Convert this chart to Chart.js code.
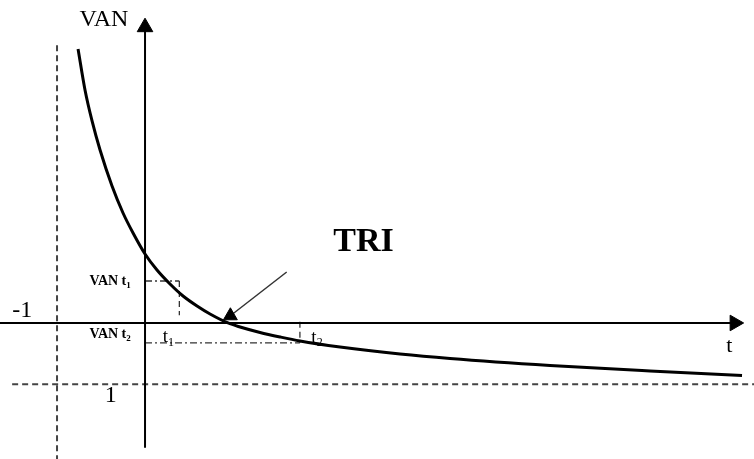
<!DOCTYPE html>
<html>
<head>
<meta charset="utf-8">
<script src="https://cdn.jsdelivr.net/npm/chart.js@4/dist/chart.umd.min.js"></script>
<style>
  html, body { margin: 0; padding: 0; background: #fff; }
  #wrap { width: 754px; height: 459px; }
</style>
</head>
<body>
<div id="wrap"><canvas id="van" width="754" height="459"></canvas></div>
<script>
// rate (t) and net present value (VAN)
const rates = [-0.761, -0.682, -0.602, -0.511, -0.375, -0.25, -0.136, 0, 0.136, 0.284, 0.432, 0.591, 0.739, 0.943, 1.08, 1.307, 1.534, 1.761, 2.216, 2.898, 3.466, 4.602, 5.739, 6.784];
const van = [4.567, 3.883, 3.367, 2.883, 2.283, 1.833, 1.5, 1.15, 0.883, 0.65, 0.45, 0.283, 0.15, 0, -0.067, -0.158, -0.233, -0.3, -0.4, -0.517, -0.592, -0.708, -0.8, -0.875];

// t1 / t2 and their VAN
const tPoints = [0.39, 1.76];
const vanPoints = [0.7, -0.33];

// asymptotes (dashed)
const asymT = -1;
const asymVan = -1.02;

// TRI arrow: from the label down to the root
const triFrom = { x: 1.61, y: 0.85 };
const triTo = { x: 0.97, y: 0.12 };

const xMin = -1.648, xMax = 6.92;
const yMin = -2.267, yMax = 5.383;

const seg = (a, b) => [a, b];

const datasets = [
  {
    // the VAN curve
    data: rates.map((t, i) => ({ x: t, y: van[i] })),
    borderColor: '#000',
    borderWidth: 3,
    cubicInterpolationMode: 'monotone',
    pointRadius: 0
  },
  {
    // VAN axis with arrow
    data: seg({ x: 0, y: -2.08 }, { x: 0, y: 4.93 }),
    borderColor: '#000',
    borderWidth: 2,
    pointRadius: [0, 9],
    pointStyle: 'triangle',
    pointBackgroundColor: '#000',
    pointBorderColor: '#000',
    pointBorderWidth: 1
  },
  {
    // t axis with arrow
    data: seg({ x: xMin, y: 0 }, { x: 6.7, y: 0 }),
    borderColor: '#000',
    borderWidth: 2,
    pointRadius: [0, 9],
    pointStyle: 'triangle',
    pointRotation: 90,
    pointBackgroundColor: '#000',
    pointBorderColor: '#000',
    pointBorderWidth: 1
  },
  {
    data: seg({ x: asymT, y: 4.63 }, { x: asymT, y: yMin }),
    borderColor: '#444',
    borderWidth: 2,
    borderDash: [6, 4],
    pointRadius: 0
  },
  {
    data: seg({ x: -1.51, y: asymVan }, { x: xMax, y: asymVan }),
    borderColor: '#444',
    borderWidth: 2,
    borderDash: [6, 4],
    pointRadius: 0
  },
  {
    // VAN t1 guide
    data: seg({ x: 0, y: vanPoints[0] }, { x: tPoints[0], y: vanPoints[0] }),
    borderColor: '#333',
    borderWidth: 1.3,
    borderDash: [7, 3, 2, 3],
    pointRadius: 0
  },
  {
    data: seg({ x: tPoints[0], y: vanPoints[0] }, { x: tPoints[0], y: 0.13 }),
    borderColor: '#333',
    borderWidth: 1.3,
    borderDash: [6, 4],
    pointRadius: 0
  },
  {
    // VAN t2 guide
    data: seg({ x: 0, y: vanPoints[1] }, { x: tPoints[1], y: vanPoints[1] }),
    borderColor: '#333',
    borderWidth: 1.3,
    borderDash: [7, 3, 2, 3],
    pointRadius: 0
  },
  {
    data: seg({ x: tPoints[1], y: 0.02 }, { x: tPoints[1], y: vanPoints[1] }),
    borderColor: '#333',
    borderWidth: 1.3,
    borderDash: [6, 4],
    pointRadius: 0
  },
  {
    // TRI arrow
    data: seg(triFrom, triTo),
    borderColor: '#333',
    borderWidth: 1.5,
    pointRadius: [0, 8],
    pointStyle: 'triangle',
    pointBackgroundColor: '#000',
    pointBorderColor: '#000',
    pointBorderWidth: 1
  }
].map(d => Object.assign({ showLine: true, clip: false, fill: false }, d));

// text placed in data units
const serif = '"Liberation Serif", "Times New Roman", serif';
const texts = [
  { text: 'VAN', x: -0.19, y: 4.95, size: 24, align: 'right' },
  { text: '-1', x: -1.51, y: 0.1, size: 24 },
  { text: '1', x: -0.39, y: -1.32, size: 24, align: 'center' },
  { text: 't', x: 6.64, y: -0.48, size: 22, align: 'center' },
  { text: 'TRI', x: 2.14, y: 1.2, size: 34, bold: true },
  { text: 'VAN t', sub: '1', x: -0.63, y: 0.63, size: 14, bold: true },
  { text: 'VAN t', sub: '2', x: -0.63, y: -0.25, size: 14, bold: true },
  { text: 't', sub: '1', x: 0.2, y: -0.32, size: 19 },
  { text: 't', sub: '2', x: 1.89, y: -0.33, size: 19 }
];

const textPlugin = {
  id: 'sketchText',
  afterDatasetsDraw(chart) {
    const { ctx, scales } = chart;
    ctx.save();
    ctx.fillStyle = '#000';
    ctx.textBaseline = 'alphabetic';
    texts.forEach(l => {
      const px = scales.x.getPixelForValue(l.x);
      const py = scales.y.getPixelForValue(l.y);
      ctx.font = (l.bold ? 'bold ' : '') + l.size + 'px ' + serif;
      ctx.textAlign = l.align || 'left';
      ctx.fillText(l.text, px, py);
      if (l.sub) {
        const w = ctx.measureText(l.text).width;
        ctx.font = (l.bold ? 'bold ' : '') + Math.round(l.size * 0.62) + 'px ' + serif;
        ctx.textAlign = 'left';
        ctx.fillText(l.sub, px + w, py + l.size * 0.18);
      }
    });
    ctx.restore();
  }
};

new Chart(document.getElementById('van'), {
  type: 'scatter',
  data: { datasets },
  options: {
    responsive: false,
    animation: false,
    layout: { padding: 0, autoPadding: false },
    plugins: { legend: { display: false }, tooltip: { enabled: false } },
    scales: {
      x: { type: 'linear', display: false, min: xMin, max: xMax },
      y: { type: 'linear', display: false, min: yMin, max: yMax }
    }
  },
  plugins: [textPlugin]
});
</script>
</body>
</html>
